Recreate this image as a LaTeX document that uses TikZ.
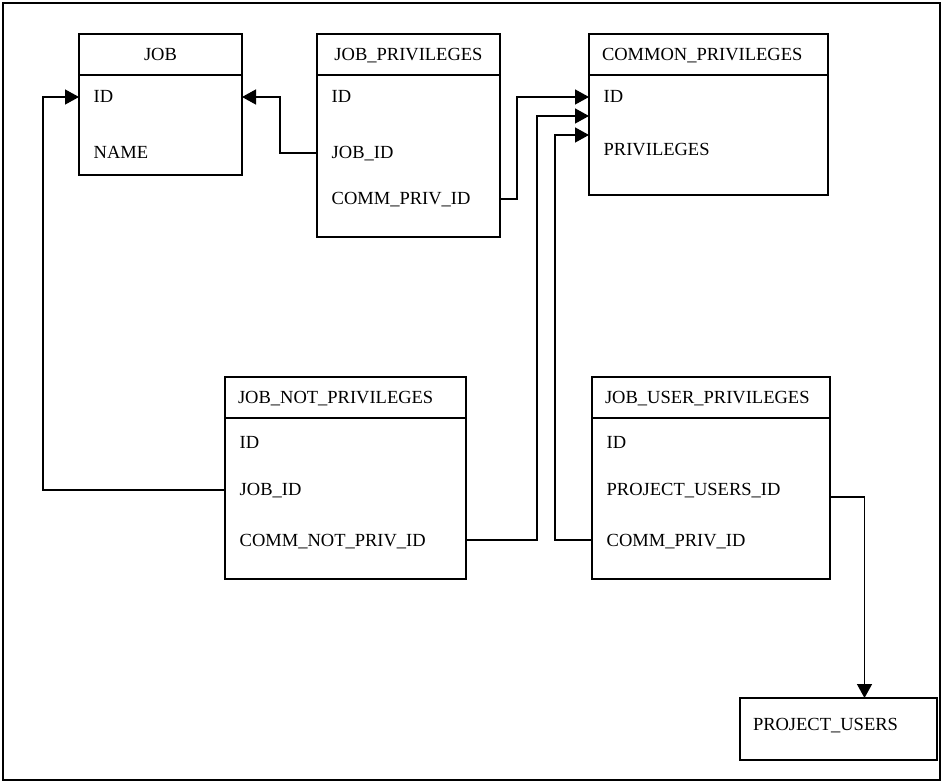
\documentclass[tikz,border=0pt]{standalone}
\usepackage{fontspec}
\setmainfont{Liberation Serif}
\usetikzlibrary{arrows.meta,positioning,calc}

\begin{document}
\begin{tikzpicture}[x=1pt,y=-1pt,line width=1.4pt,>={Triangle[length=14pt,width=15pt]},
  font=\fontsize{18.5}{20}\selectfont,
  hdr/.style={draw,anchor=north west,outer sep=0pt,minimum height=41pt,inner xsep=13pt,inner ysep=0pt,text height=12pt,text depth=0pt},
  tbody/.style={draw,outer sep=0pt,inner sep=0pt},
  row/.style={anchor=west,inner sep=0pt,text height=12pt,text depth=0pt}]
\useasboundingbox (0,0) rectangle (943,783);
\draw (3,3) rectangle (940,780);
% ---------- JOB ----------
\node[hdr,text width=137pt,align=center] (job) at (79,34) {JOB};
\node[tbody,minimum width=163pt,minimum height=100pt,below=0pt of job] (job-b) {};
\node[row] (job-id) at (93,97) {ID};
\node[row] (job-name) at (93,153) {NAME};
% ---------- JOB_PRIVILEGES ----------
\node[hdr,text width=157pt,align=center] (jp) at (317,34) {JOB\_PRIVILEGES};
\node[tbody,minimum width=183pt,minimum height=162pt,below=0pt of jp] (jp-b) {};
\node[row] (jp-id) at (331,97) {ID};
\node[row] (jp-jobid) at (331,153) {JOB\_ID};
\node[row] (jp-commpriv) at (331,199) {COMM\_PRIV\_ID};
% ---------- COMMON_PRIVILEGES ----------
\node[hdr,text width=213pt,align=left] (cp) at (589,34) {COMMON\_PRIVILEGES};
\node[tbody,minimum width=239pt,minimum height=120pt,below=0pt of cp] (cp-b) {};
\node[row] (cp-id) at (603,97) {ID};
\node[row] (cp-priv) at (603,150) {PRIVILEGES};
% ---------- JOB_NOT_PRIVILEGES ----------
\node[hdr,text width=215pt,align=left] (jnp) at (225,377) {JOB\_NOT\_PRIVILEGES};
\node[tbody,minimum width=241pt,minimum height=161pt,below=0pt of jnp] (jnp-b) {};
\node[row] (jnp-id) at (239,443) {ID};
\node[row] (jnp-jobid) at (239,490) {JOB\_ID};
\node[row] (jnp-cnp) at (239,540) {COMM\_NOT\_PRIV\_ID};
% ---------- JOB_USER_PRIVILEGES ----------
\node[hdr,text width=212pt,align=left] (jup) at (592,377) {JOB\_USER\_PRIVILEGES};
\node[tbody,minimum width=238pt,minimum height=161pt,below=0pt of jup] (jup-b) {};
\node[row] (jup-id) at (606,443) {ID};
\node[row] (jup-puid) at (606,490) {PROJECT\_USERS\_ID};
\node[row] (jup-commpriv) at (606,540) {COMM\_PRIV\_ID};
% ---------- PROJECT_USERS ----------
\node[hdr,minimum height=62pt,text width=171pt,align=left,text depth=10pt] (pu) at (740,698) {PROJECT\_USERS};
% ---------- foreign keys ----------
\draw[->] (jp-b.west |- jp-jobid) -- ++(-37,0) |- (job-b.east |- job-id);
\draw[->] (jp-b.east |- jp-commpriv) -- ++(17,0) |- (cp-b.west |- cp-id);
\draw[->] (jnp-b.east |- jnp-cnp) -- ++(71,0) |- ($(cp-b.west |- cp-id)+(0,19)$);
\draw[->] (jup-b.west |- jup-commpriv) -- ++(-37,0) |- ($(cp-b.west |- cp-id)+(0,38)$);
\draw[->] (jnp-b.west |- jnp-jobid) -- ++(-182,0) |- (job-b.west |- job-id);
\draw[->] ($(jup-b.east |- jup-puid)+(0,7)$) -| ([xshift=26pt]pu.north);
\end{tikzpicture}
\end{document}
